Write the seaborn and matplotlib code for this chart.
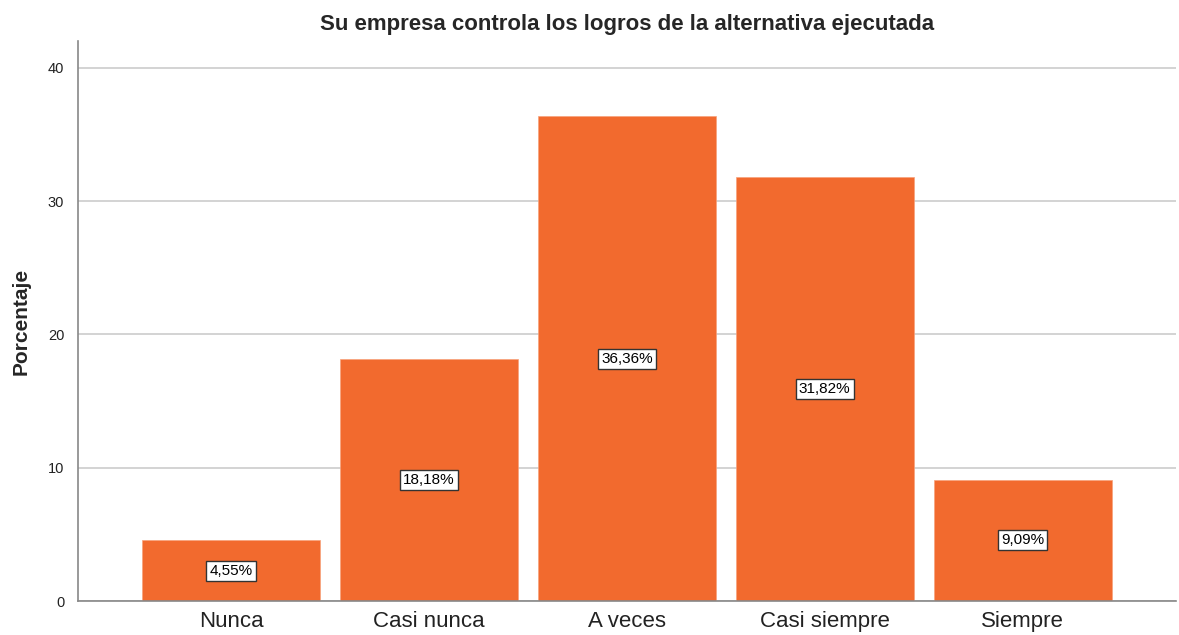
import matplotlib as mpl
mpl.use('Agg')
import matplotlib.pyplot as plt
import seaborn as sns
import pandas as pd

categories = ['Nunca', 'Casi nunca', 'A veces', 'Casi siempre', 'Siempre']
percentages = [4.55, 18.18, 36.36, 31.82, 9.09]
bar_labels = ['4,55%', '18,18%', '36,36%', '31,82%', '9,09%']

sns.set_style('white')
plt.rcParams['font.family'] = ['Liberation Sans', 'DejaVu Sans']

df = pd.DataFrame({'categoria': categories, 'porcentaje': percentages})

fig = plt.figure(figsize=(11.79, 6.35), dpi=100)
ax = fig.add_axes([0.0662, 0.0535, 0.9313, 0.8819])

sns.barplot(data=df, x='categoria', y='porcentaje', color='#F26A2E',
            saturation=1, width=0.9, edgecolor='#F7A27C', linewidth=0.5,
            ax=ax, zorder=2)

# labels in the middle of each bar
for i, (val, lbl) in enumerate(zip(percentages, bar_labels)):
    ax.text(i, val / 2, lbl, ha='center', va='center', fontsize=11,
            color='black', zorder=3,
            bbox=dict(boxstyle='square,pad=0.2', facecolor='white',
                      edgecolor='#333333', linewidth=1))

ax.set_xlim(-0.773, 4.775)
ax.set_ylim(0, 42)
ax.set_yticks([0, 10, 20, 30, 40])
ax.yaxis.grid(True, color='#CCCCCC', linewidth=1.2, zorder=0)
ax.set_axisbelow(True)

for side in ['top', 'right']:
    ax.spines[side].set_visible(False)
for side in ['left', 'bottom']:
    ax.spines[side].set_color('#888888')
    ax.spines[side].set_linewidth(1.2)

ax.tick_params(axis='both', length=0)
ax.tick_params(axis='x', labelsize=16, pad=7, colors='#222222')
ax.tick_params(axis='y', labelsize=10.5, pad=10, colors='#222222')

ax.set_xlabel('')
ax.set_ylabel('Porcentaje', fontsize=15, weight='bold', labelpad=12)
ax.set_title('Su empresa controla los logros de la alternativa ejecutada',
             fontsize=16, weight='bold', pad=8)

fig.savefig('out.png', dpi=100)
